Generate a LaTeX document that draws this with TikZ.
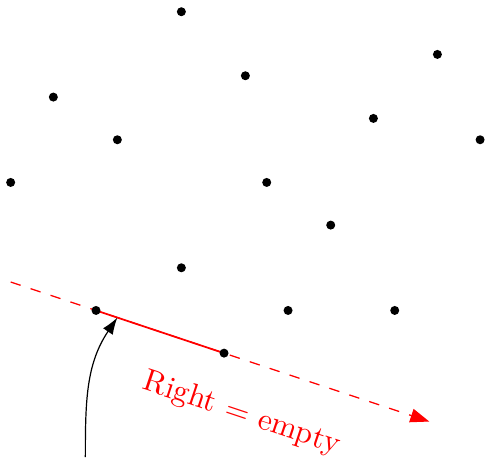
\documentclass[tikz,border=0pt]{standalone}
\usetikzlibrary{arrows.meta,calc}

\begin{document}
\begin{tikzpicture}[x=0.25cm, y=0.25cm,
        pt/.style={circle, fill=black, inner sep=0pt, minimum size=3pt},
        cutline/.style={red, dashed, dash pattern=on 3.5pt off 3.5pt, -{Triangle[length=6.3pt, width=4.6pt]}}]
        \useasboundingbox (-0.5, -4.875) rectangle (22.23, 16.55);

        % -- point set (15 points) -----------------------------------------------
        \foreach \i/\x/\y in {1/8/16, 2/11/13, 3/20/14, 4/2/12, 5/5/10, 6/17/11,
                              7/22/10, 8/0/8, 9/12/8, 10/15/6, 11/8/4, 12/4/2,
                              13/13/2, 14/18/2, 15/10/0} {
            \coordinate (c\i) at (\x, \y);
        }

        % -- dashed supporting line through c12 and c15 --------------------------
        \coordinate (ls) at (0, 3.333);
        \coordinate (le) at (19.62, -3.207);
        \draw[cutline] (ls) -- (le);

        % -- edge c12--c15 -------------------------------------------------------
        \draw[red, semithick] (c12) -- (c15);

        % -- label ---------------------------------------------------------------
        \node[red, rotate=-18.43, scale=1.04] (lbl) at (10.82, -2.86) {Right = empty};

        % -- curved pointer ------------------------------------------------------
        \coordinate (hit) at ($(c12)!1/6!(c15)$);
        \coordinate (src) at (3.5, -4.875);
        \draw[-{Latex[length=5.6pt, width=3.9pt]}] (src) to[out=90, in=236] (hit);

        % -- dots on top ---------------------------------------------------------
        \foreach \i in {1,...,15} {
            \node[pt] (p\i) at (c\i) {};
        }
    \end{tikzpicture}
\end{document}
